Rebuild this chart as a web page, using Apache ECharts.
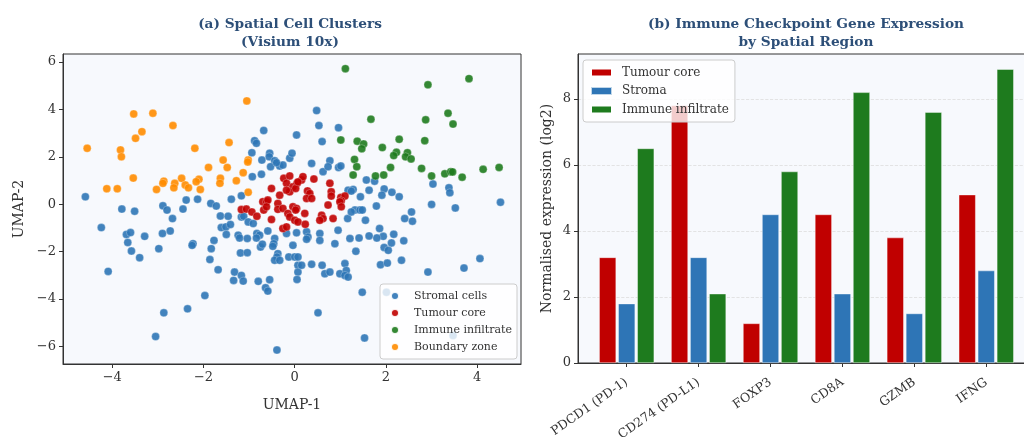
<!DOCTYPE html>
<html>
<head>
<meta charset="utf-8">
<script src="https://cdn.jsdelivr.net/npm/echarts@6/dist/echarts.min.js"></script>
<style>
html, body { margin: 0; padding: 0; background: #fff; }
#main { width: 1024px; height: 439px; }
</style>
</head>
<body>
<div id="main"></div>
<script>
// (a) UMAP coordinates per cluster
const stromal = [
  [-0.68, 3.11], [-0.88, 2.68], [-0.84, 2.57], [0.04, 2.92], [-0.94, 2.17], [-0.72, 1.86],
  [-0.55, 2.15], [-0.56, 2.00], [-0.44, 1.83], [-0.53, 1.58], [-0.33, 1.61], [-0.26, 1.65],
  [-0.11, 1.94], [-0.06, 2.15], [-0.93, 1.16], [-0.73, 1.26], [-1.39, 0.21], [-1.17, 0.35],
  [-4.59, 0.31], [-3.79, -0.21], [-3.51, -0.30], [-2.89, -0.07], [-2.80, -0.25], [-2.45, -0.21],
  [-2.38, 0.17], [-2.13, 0.21], [-1.84, 0.03], [-1.72, -0.08], [-1.63, -0.50], [-1.46, -0.51],
  [-1.61, -0.99], [-1.51, -0.96], [-1.41, -0.86], [-1.50, -1.28], [-1.17, -0.54], [-1.12, -0.51],
  [-1.02, -0.75], [-0.91, -0.82], [-1.24, -1.31], [-1.21, -1.43], [-1.04, -1.45], [-0.83, -1.24],
  [-0.77, -1.31], [-0.84, -1.43], [-0.75, -1.81], [-2.23, -1.67], [-2.25, -1.74], [-1.77, -1.53],
  [-1.83, -1.88], [-1.86, -2.34], [-1.68, -2.77], [-1.19, -2.06], [-1.04, -2.05], [-1.32, -2.87],
  [-1.17, -3.01], [-1.34, -3.22], [-1.13, -3.25], [-0.80, -3.26], [-1.97, -3.86], [-4.24, -0.99],
  [-3.69, -1.28], [-3.60, -1.20], [-3.66, -1.62], [-3.58, -1.98], [-3.40, -2.26], [-3.29, -1.36],
  [-4.09, -2.84], [-2.68, -0.61], [-2.90, -1.24], [-2.73, -1.13], [-2.98, -1.88], [-0.59, -1.13],
  [-0.71, -1.69], [-0.55, -3.19], [-0.64, -3.53], [-0.59, -3.67], [-0.44, -1.45], [-0.46, -1.67],
  [-0.48, -1.78], [-0.37, -2.09], [-0.39, -2.23], [-0.44, -2.37], [-0.33, -2.37], [-0.18, -1.24],
  [0.04, -1.21], [-0.04, -1.74], [-0.13, -2.23], [0.00, -2.23], [0.07, -2.58], [0.07, -2.87],
  [0.05, -3.18], [-2.35, -4.42], [-2.87, -4.59], [-3.05, -5.59], [-0.39, -6.16], [0.48, 3.95],
  [0.53, 3.32], [0.96, 3.23], [0.60, 2.64], [-0.40, 1.75], [0.37, 1.72], [0.62, 1.37],
  [0.77, 1.83], [0.73, 1.58], [0.96, 1.55], [1.01, 1.61], [1.17, 0.59], [1.16, -0.61],
  [0.95, -1.10], [0.88, -1.67], [0.55, -1.24], [0.55, -1.53], [0.26, -1.17], [0.29, -1.39],
  [0.26, -1.48], [0.07, -2.23], [0.15, -2.58], [0.37, -2.54], [0.60, -2.58], [0.66, -2.94],
  [0.77, -2.87], [0.99, -2.94], [1.10, -2.51], [1.13, -2.80], [1.10, -3.01], [1.17, -3.08],
  [1.57, 1.02], [1.75, 0.97], [1.28, 0.62], [1.24, 0.55], [1.63, 0.59], [1.44, 0.31],
  [1.96, 0.64], [1.91, 0.38], [2.13, 0.50], [2.29, 0.31], [1.79, -0.08], [1.32, -0.25],
  [1.43, -0.25], [1.48, -0.25], [1.24, -0.33], [1.55, -0.68], [2.41, -0.61], [2.56, -0.33],
  [2.58, -0.72], [3.00, -0.01], [3.03, 0.85], [1.86, -1.03], [1.94, -1.36], [1.80, -1.43],
  [1.63, -1.34], [2.17, -1.27], [2.12, -1.64], [1.96, -1.83], [2.05, -1.95], [2.39, -1.55],
  [2.34, -2.37], [1.88, -2.56], [2.03, -2.49], [1.41, -1.43], [1.21, -1.45], [1.34, -1.99],
  [2.92, -2.87], [1.48, -3.72], [3.38, 0.69], [3.40, 0.48], [3.52, -0.16], [4.51, 0.08],
  [4.06, -2.30], [3.71, -2.70], [0.51, -4.59], [1.53, -5.65], [2.01, -3.72], [3.47, -5.55]
];
const tumour = [
  [-1.17, -0.23], [-1.06, -0.21], [-0.94, -0.33], [-0.83, -0.51], [-0.70, 0.10], [-0.68, -0.25],
  [-0.24, 1.09], [-0.11, 1.19], [-0.18, 0.88], [-0.04, 0.73], [-0.11, 0.52], [0.05, 0.88],
  [-0.51, 0.66], [-0.33, 0.38], [-0.62, 0.10], [-0.37, 0.03], [-0.04, -0.11], [-0.37, -0.22],
  [-0.26, -0.18], [-0.15, -0.39], [-0.11, -0.54], [0.00, -0.68], [-0.51, -0.65], [-0.26, -1.03],
  [-0.18, -0.96], [0.04, -0.18], [-0.18, 0.59], [0.02, 0.66], [0.15, 1.02], [0.18, 1.16],
  [0.42, 1.06], [0.77, 0.88], [0.80, 0.52], [0.80, 0.34], [1.01, 0.28], [1.10, 0.34],
  [1.02, 0.14], [-0.59, 0.17], [0.28, 0.56], [0.33, 0.45], [0.26, 0.24], [0.37, 0.24],
  [0.02, -0.25], [0.22, -0.39], [0.07, -0.75], [0.23, -0.85], [0.59, -0.47], [0.62, -0.61],
  [0.55, -0.68], [0.73, -0.04], [0.84, -0.61], [0.99, 0.10], [1.02, -0.11], [0.07, 0.94],
  [-0.62, -0.11]
];
const infiltrate = [
  [1.11, 5.72], [2.92, 5.04], [3.82, 5.30], [1.67, 3.59], [2.87, 3.56], [3.36, 3.84],
  [3.47, 3.38], [1.01, 2.71], [1.37, 2.66], [1.51, 2.54], [1.47, 2.34], [1.92, 2.39],
  [2.29, 2.74], [2.85, 2.68], [2.23, 2.19], [2.17, 2.05], [2.47, 2.17], [2.43, 2.00],
  [2.55, 1.91], [1.31, 1.89], [1.36, 1.58], [1.28, 1.23], [1.77, 1.19], [1.95, 1.23],
  [2.10, 1.55], [2.78, 1.51], [3.00, 1.19], [3.29, 1.28], [3.42, 1.37], [3.46, 1.36],
  [3.67, 1.14], [4.13, 1.47], [4.48, 1.55]
];
const boundary = [
  [-4.55, 2.36], [-3.53, 3.81], [-3.11, 3.84], [-3.35, 3.06], [-3.49, 2.78], [-2.67, 3.32],
  [-3.82, 2.29], [-3.80, 2.00], [-3.54, 1.10], [-4.12, 0.65], [-3.89, 0.65], [-1.05, 4.36],
  [-2.19, 2.36], [-1.44, 2.60], [-1.57, 1.86], [-1.48, 1.55], [-1.89, 1.55], [-1.02, 1.86],
  [-1.03, 1.78], [-1.13, 1.33], [-1.28, 0.99], [-1.63, 1.09], [-1.64, 0.88], [-2.10, 1.05],
  [-2.16, 0.95], [-2.07, 0.62], [-2.48, 1.09], [-2.40, 0.81], [-2.33, 0.69], [-2.63, 0.88],
  [-2.65, 0.69], [-2.87, 0.97], [-2.89, 0.88], [-3.03, 0.62], [-1.02, 0.50]
];
const umapTicksX = [-4, -2, 0, 2, 4];
const umapTicksY = [-6, -4, -2, 0, 2, 4, 6];

// (b) expression by region (log2)
const genes = ['PDCD1 (PD-1)', 'CD274 (PD-L1)', 'FOXP3', 'CD8A', 'GZMB', 'IFNG'];
const exprTumour = [3.2, 7.8, 1.2, 4.5, 3.8, 5.1];
const exprStroma = [1.8, 3.2, 4.5, 2.1, 1.5, 2.8];
const exprImmune = [6.5, 2.1, 5.8, 8.2, 7.6, 8.9];
const exprTicks = [0, 2, 4, 6, 8];

const serif = "'DejaVu Serif', 'Liberation Serif', serif";
const RED = '#C00000', BLUE = '#2E75B6', GREEN = '#1E7B1E', ORANGE = '#FF8C00';
const minus = v => String(v).replace('-', '\u2212');

const chart = echarts.init(document.getElementById('main'));

// 坐标轴公共样式
function axisBase(gridIndex) {
  return {
    gridIndex: gridIndex,
    axisLine: { show: true, onZero: false, lineStyle: { color: '#333', width: 1 } },
    axisTick: { show: true, length: 4, lineStyle: { color: '#333' } },
    axisLabel: { fontFamily: serif, fontSize: 13, color: '#333', margin: 7 },
    nameTextStyle: { fontFamily: serif, fontSize: 14, color: '#333' },
    nameLocation: 'middle',
    splitLine: { show: false }
  };
}

function scatterSeries(name, data, color) {
  return {
    name: name,
    type: 'scatter',
    xAxisIndex: 0,
    yAxisIndex: 0,
    data: data,
    symbolSize: 8,
    itemStyle: { color: color, opacity: 0.9, borderColor: '#fff', borderWidth: 0.3 }
  };
}

function barSeries(name, values, color) {
  return {
    name: name,
    type: 'bar',
    xAxisIndex: 1,
    yAxisIndex: 1,
    data: values.map((v, i) => [i, v]),
    barWidth: 17,
    barGap: '12%',
    itemStyle: { color: color, borderColor: 'rgba(255,255,255,0.7)', borderWidth: 0.6 }
  };
}

const titleStyle = { fontFamily: serif, fontWeight: 'bold', fontSize: 13.7, color: '#2D4F78', lineHeight: 18 };

const option = {
  animation: false,
  backgroundColor: '#fff',
  title: [
    { text: '(a) Spatial Cell Clusters\n(Visium 10x)', left: 285, top: 10, textAlign: 'center', textStyle: titleStyle },
    { text: '(b) Immune Checkpoint Gene Expression\nby Spatial Region', left: 801, top: 10, textAlign: 'center', textStyle: titleStyle }
  ],
  grid: [
    {
      left: 63, top: 54, width: 458, height: 310, outerBoundsMode: 'none',
      show: true, backgroundColor: '#F7F9FD', borderColor: '#333', borderWidth: 1
    },
    {
      left: 578, top: 54, right: -9, height: 309, outerBoundsMode: 'none',
      show: true, backgroundColor: '#F7F9FD', borderColor: '#333', borderWidth: 1
    }
  ],
  legend: [
    {
      data: ['Stromal cells', 'Tumour core', 'Immune infiltrate', 'Boundary zone'],
      orient: 'vertical', left: 380, top: 284,
      icon: 'circle', itemWidth: 20, itemHeight: 8, itemGap: 3,
      padding: [5, 5, 5, 10],
      backgroundColor: 'rgba(255,255,255,0.8)', borderColor: '#ccc', borderWidth: 1, borderRadius: 3,
      textStyle: { fontFamily: serif, fontSize: 11, color: '#333', lineHeight: 14, padding: [0, 0, 0, 4] }
    },
    {
      data: [
        { name: 'Tumour core', itemStyle: { color: RED, opacity: 1 } },
        { name: 'Stroma', itemStyle: { color: BLUE, opacity: 1 } },
        { name: 'Immune infiltrate', itemStyle: { color: GREEN, opacity: 1 } }
      ],
      orient: 'vertical', left: 583, top: 60,
      icon: 'rect', itemWidth: 21, itemHeight: 8, itemGap: 3.5,
      padding: [5, 6, 5, 7],
      backgroundColor: 'rgba(255,255,255,0.8)', borderColor: '#ccc', borderWidth: 1, borderRadius: 3,
      textStyle: { fontFamily: serif, fontSize: 12, color: '#333', lineHeight: 15, padding: [0, 0, 0, 5] }
    }
  ],
  xAxis: [
    Object.assign(axisBase(0), {
      type: 'value', min: -5.08, max: 4.96, name: 'UMAP-1', nameGap: 34,
      axisLabel: { fontFamily: serif, fontSize: 13, color: '#333', margin: 7, customValues: umapTicksX, formatter: minus },
      axisTick: { show: true, length: 4, lineStyle: { color: '#333' }, customValues: umapTicksX }
    }),
    Object.assign(axisBase(1), {
      type: 'value', min: -0.677, max: 5.65,
      axisLabel: {
        fontFamily: serif, fontSize: 12.5, color: '#333', margin: 18, rotate: 35,
        customValues: genes.map((g, i) => i), formatter: v => genes[v]
      },
      axisTick: { show: true, length: 4, lineStyle: { color: '#333' }, customValues: genes.map((g, i) => i) }
    })
  ],
  yAxis: [
    Object.assign(axisBase(0), {
      type: 'value', min: -6.75, max: 6.34, name: 'UMAP-2', nameGap: 37,
      axisLabel: { fontFamily: serif, fontSize: 13, color: '#333', margin: 7, customValues: umapTicksY, formatter: minus },
      axisTick: { show: true, length: 4, lineStyle: { color: '#333' }, customValues: umapTicksY }
    }),
    Object.assign(axisBase(1), {
      type: 'value', min: 0, max: 9.36, name: 'Normalised expression (log2)', nameGap: 24,
      axisLabel: { fontFamily: serif, fontSize: 13, color: '#333', margin: 7, customValues: exprTicks },
      axisTick: { show: true, length: 4, lineStyle: { color: '#333' }, customValues: exprTicks },
      splitLine: { show: true, lineStyle: { color: '#ddd', type: 'dashed', width: 0.8 } }
    })
  ],
  series: [
    scatterSeries('Stromal cells', stromal, BLUE),
    scatterSeries('Tumour core', tumour, RED),
    scatterSeries('Immune infiltrate', infiltrate, GREEN),
    scatterSeries('Boundary zone', boundary, ORANGE),
    barSeries('Tumour core', exprTumour, RED),
    barSeries('Stroma', exprStroma, BLUE),
    barSeries('Immune infiltrate', exprImmune, GREEN)
  ]
};

chart.setOption(option);
</script>
</body>
</html>
